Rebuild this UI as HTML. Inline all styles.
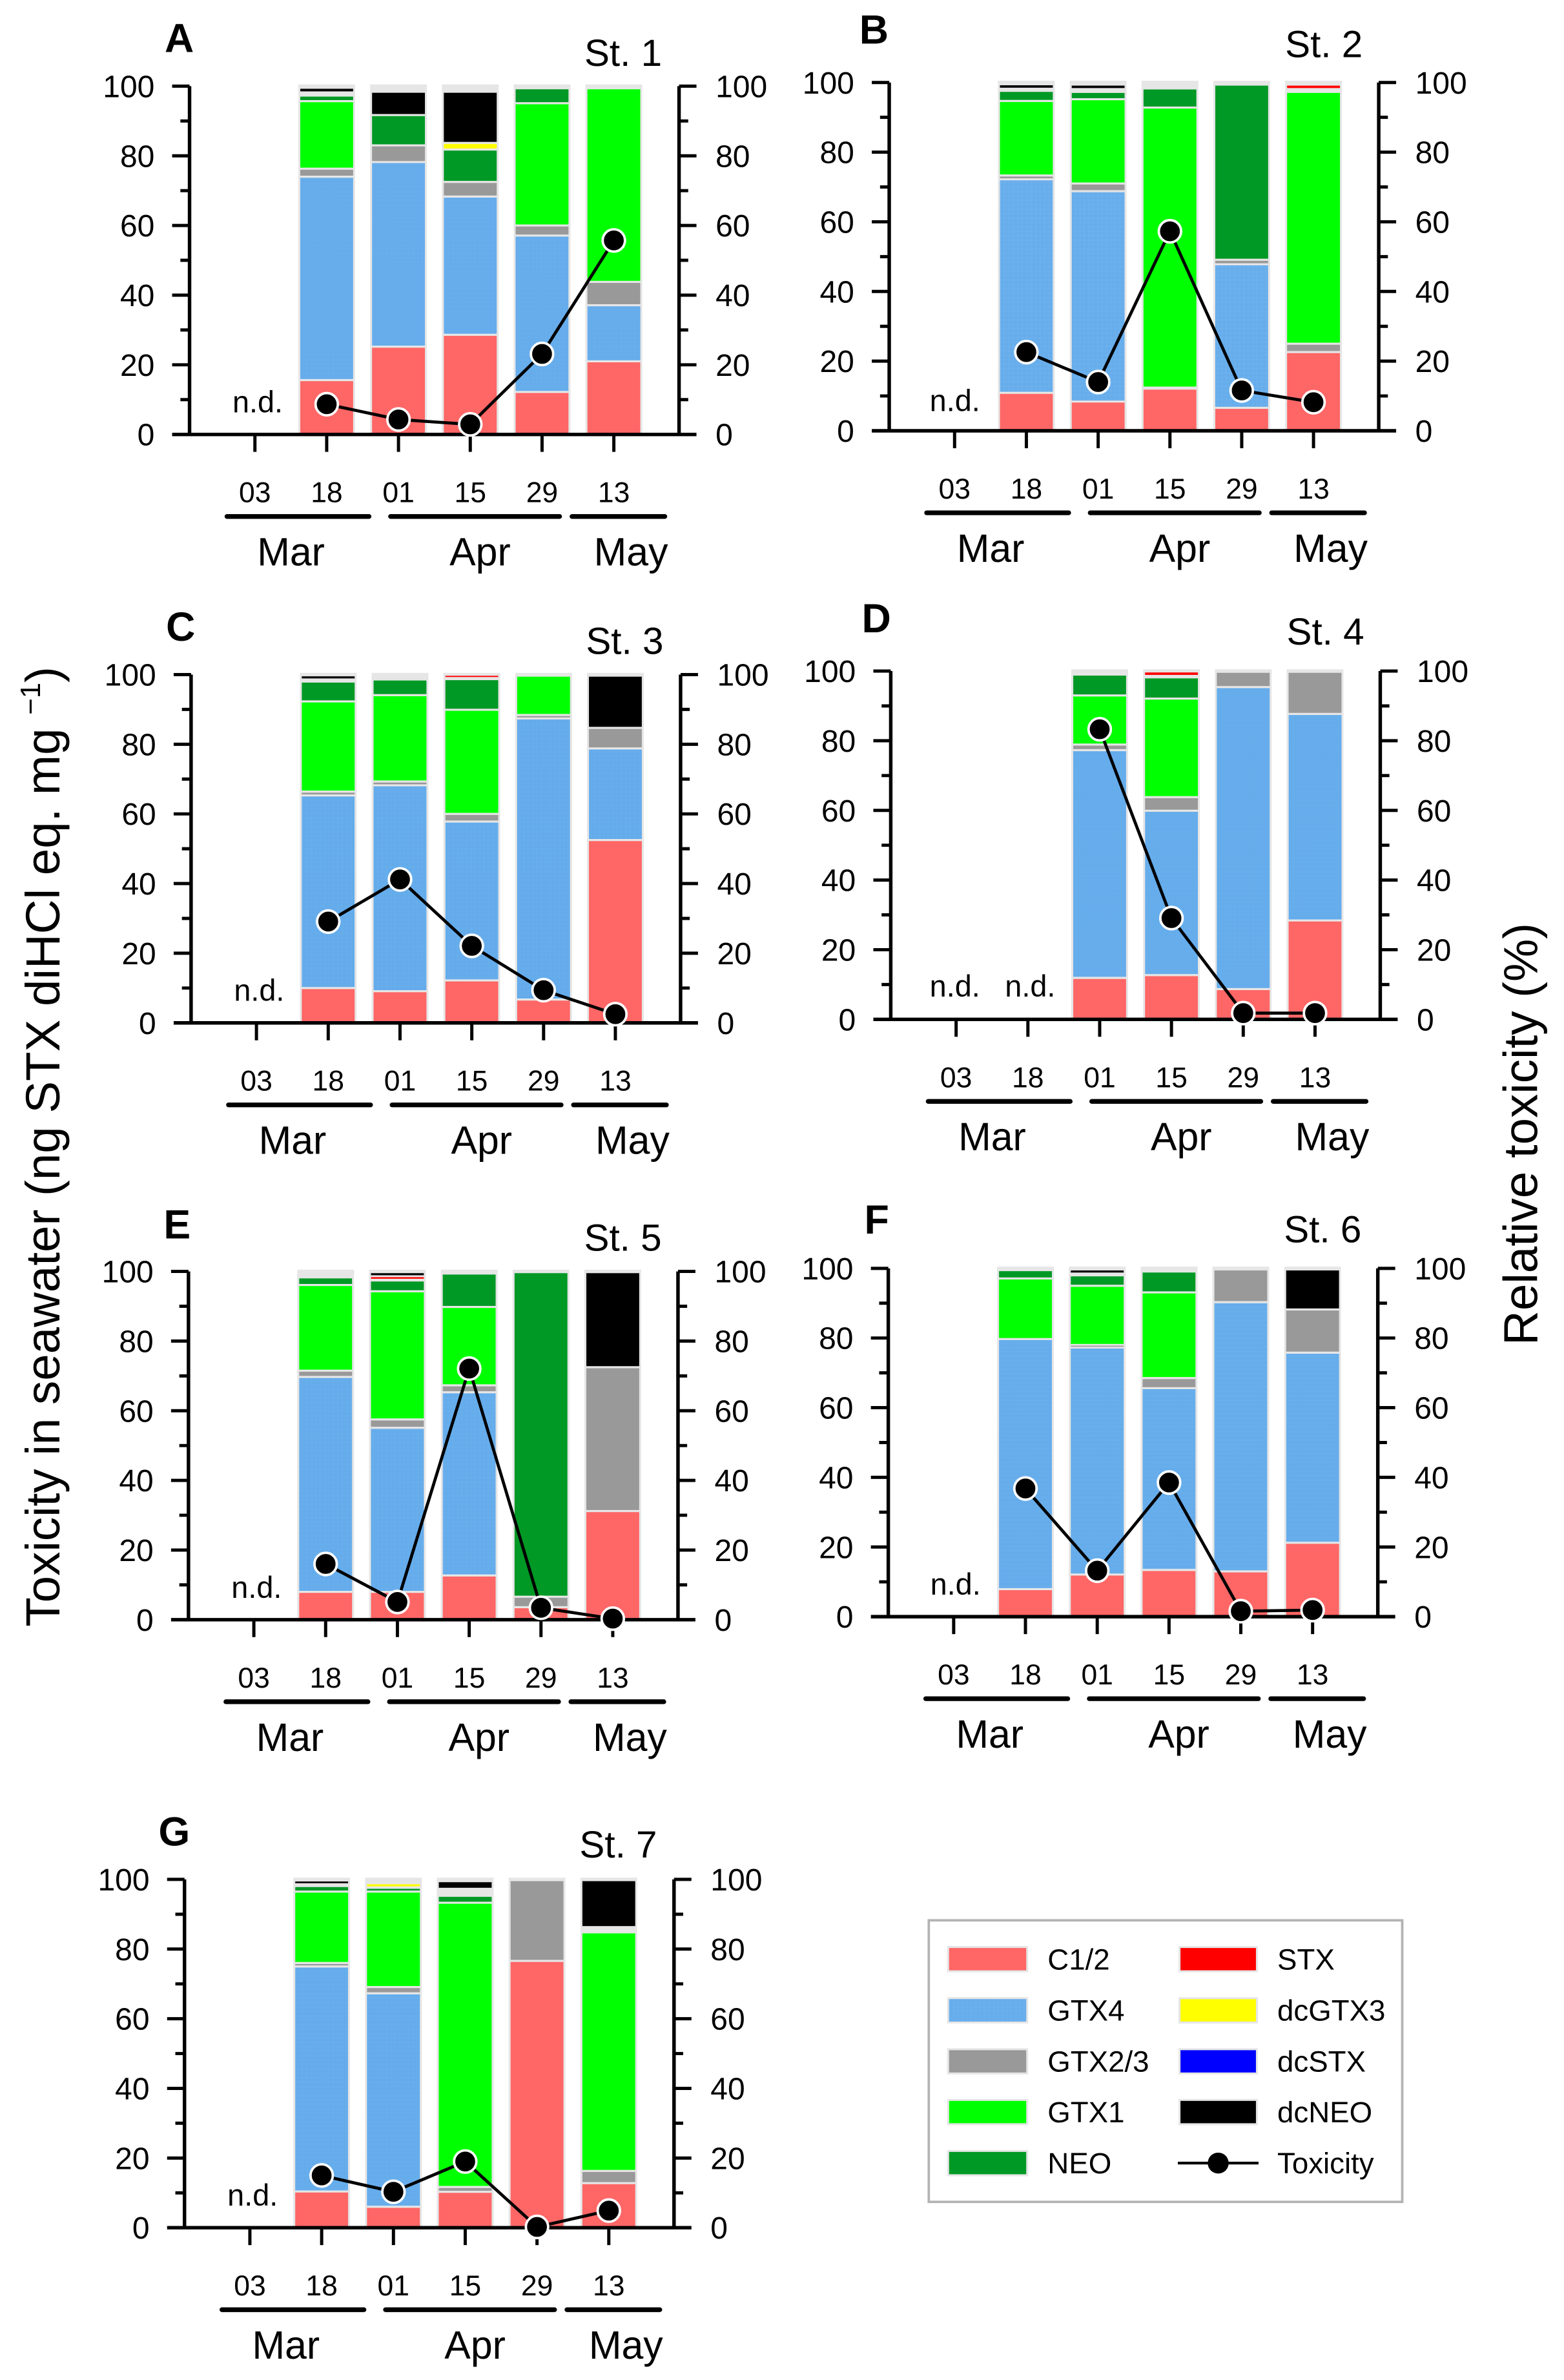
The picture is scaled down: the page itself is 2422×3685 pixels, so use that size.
<!DOCTYPE html>
<html><head><meta charset="utf-8"><style>
html,body{margin:0;padding:0;background:#fff;}
svg{display:block;}
text{font-family:"Liberation Sans",sans-serif;fill:#000;}
.tl{text-anchor:end;font-size:20.3px;}
.tr{font-size:20.3px;}
.td{text-anchor:middle;font-size:18.8px;}
.tm{text-anchor:middle;font-size:25.7px;}
.let{font-weight:bold;font-size:26.5px;}
.st{text-anchor:end;font-size:24.7px;}
.nd{text-anchor:middle;font-size:19.8px;}
.lg{font-size:19.3px;}
.c{fill:#ff6666}.b{fill:url(#gtx4)}.g{fill:#999999}.l{fill:#00ff00}.n{fill:#009925}.r{fill:#ff0000}.y{fill:#ffff00}.k{fill:#000000}.bg{fill:#e6e6e6}
.tox{fill:none;stroke:#000;stroke-width:2;}
.mk{fill:#000;stroke:#fff;stroke-width:1.6;}
</style></head><body>
<svg width="2422" height="3685" viewBox="0 0 1024 1558" xmlns="http://www.w3.org/2000/svg">
<defs>
<pattern id="gtx4" patternUnits="userSpaceOnUse" width="0.8456" height="0.3709"><rect width="0.8456" height="0.3709" fill="#4d9fe8"/><rect width="0.4228" height="0.1854" fill="#b5d8f7"/></pattern>
<g id="fr" fill="none" stroke="#000">
<path stroke-width="2.3" d="M0 0V-228M320.5 0V-228M-11.4 0H331.9"/>
<path stroke-width="2.1" d="M-11.4 -45.6H0M-11.4 -91.2H0M-11.4 -136.8H0M-11.4 -182.4H0M-11.4 -228H0M-6 -22.8H0M-6 -68.4H0M-6 -114H0M-6 -159.6H0M-6 -205.2H0M320.5 -45.6H331.9M320.5 -91.2H331.9M320.5 -136.8H331.9M320.5 -182.4H331.9M320.5 -228H331.9M320.5 -22.8H326.5M320.5 -68.4H326.5M320.5 -114H326.5M320.5 -159.6H326.5M320.5 -205.2H326.5M42.8 0V11.4M89.8 0V11.4M136.8 0V11.4M183.8 0V11.4M230.8 0V11.4M277.8 0V11.4"/>
<path stroke-width="3.1" stroke-linecap="round" d="M24.5 53.7H117.5M131.6 53.7H242.3M250.4 53.7H311.2"/>
</g>
</defs>
<rect width="1024" height="1558" fill="#fff"/>

<!-- Panel A -->
<g transform="translate(124.1,284.4)">
<g transform="scale(1,-2.28)">
<rect class="bg" x="71.2" y="0" width="37.2" height="100.5"/><rect class="bg" x="118.2" y="0" width="37.2" height="100.5"/><rect class="bg" x="165.2" y="0" width="37.2" height="100.5"/><rect class="bg" x="212.2" y="0" width="37.2" height="100.5"/><rect class="bg" x="259.2" y="0" width="37.2" height="100.5"/>
<rect class="c" x="72.5" y=".3" width="34.6" height="15"/><rect class="b" x="72.5" y="15.9" width="34.6" height="57.8"/><rect class="g" x="72.5" y="74.3" width="34.6" height="1.7"/><rect class="l" x="72.5" y="76.6" width="34.6" height="18.8"/><rect class="n" x="72.5" y="96" width="34.6" height="1"/><rect class="k" x="72.5" y="98.5" width="34.6" height=".75"/>
<rect class="c" x="119.5" y=".3" width="34.6" height="24.6"/><rect class="b" x="119.5" y="25.5" width="34.6" height="52.4"/><rect class="g" x="119.5" y="78.5" width="34.6" height="4.2"/><rect class="n" x="119.5" y="83.3" width="34.6" height="8.1"/><rect class="k" x="119.5" y="92" width="34.6" height="6.1"/>
<rect class="c" x="166.5" y=".3" width="34.6" height="28"/><rect class="b" x="166.5" y="28.9" width="34.6" height="39.1"/><rect class="g" x="166.5" y="68.6" width="34.6" height="3.6"/><rect class="n" x="166.5" y="72.8" width="34.6" height="8.7"/><rect class="y" x="166.5" y="82.1" width="34.6" height="1.3"/><rect class="k" x="166.5" y="84" width="34.6" height="14.1"/>
<rect class="c" x="213.5" y=".3" width="34.6" height="11.6"/><rect class="b" x="213.5" y="12.5" width="34.6" height="44.3"/><rect class="g" x="213.5" y="57.4" width="34.6" height="2.3"/><rect class="l" x="213.5" y="60.3" width="34.6" height="34.5"/><rect class="n" x="213.5" y="95.4" width="34.6" height="3.7"/>
<rect class="c" x="260.5" y=".3" width="34.6" height="20.4"/><rect class="b" x="260.5" y="21.3" width="34.6" height="15.5"/><rect class="g" x="260.5" y="37.4" width="34.6" height="6.1"/><rect class="l" x="260.5" y="44.1" width="34.6" height="55"/>
</g>
<use href="#fr"/>
<polyline class="tox" points="89.8,-19.8 136.8,-9.8 183.8,-6.6 230.8,-52.7 277.8,-127"/>
<circle class="mk" cx="89.8" cy="-19.8" r="7.3"/><circle class="mk" cx="136.8" cy="-9.8" r="7.3"/><circle class="mk" cx="183.8" cy="-6.6" r="7.3"/><circle class="mk" cx="230.8" cy="-52.7" r="7.3"/><circle class="mk" cx="277.8" cy="-127" r="7.3"/>
<text class="tl" x="-22.9" y="7.2">0</text><text class="tl" x="-22.9" y="-38.4">20</text><text class="tl" x="-22.9" y="-84">40</text><text class="tl" x="-22.9" y="-129.6">60</text><text class="tl" x="-22.9" y="-175.2">80</text><text class="tl" x="-22.9" y="-220.8">100</text>
<text class="tr" x="344.4" y="7.2">0</text><text class="tr" x="344.4" y="-38.4">20</text><text class="tr" x="344.4" y="-84">40</text><text class="tr" x="344.4" y="-129.6">60</text><text class="tr" x="344.4" y="-175.2">80</text><text class="tr" x="344.4" y="-220.8">100</text>
<text class="td" x="42.8" y="44.4">03</text><text class="td" x="89.8" y="44.4">18</text><text class="td" x="136.8" y="44.4">01</text><text class="td" x="183.8" y="44.4">15</text><text class="td" x="230.8" y="44.4">29</text><text class="td" x="277.8" y="44.4">13</text>
<text class="tm" x="66.4" y="85.8">Mar</text><text class="tm" x="190.2" y="85.8">Apr</text><text class="tm" x="289" y="85.8">May</text>
<text class="let" x="-16.3" y="-250.4">A</text><text class="st" x="309.3" y="-241.3">St. 1</text><text class="nd" x="44.6" y="-14.4">n.d.</text>
</g>

<!-- Panel B -->
<g transform="translate(582.2,282)">
<g transform="scale(1,-2.28)">
<rect class="bg" x="71.2" y="0" width="37.2" height="100.5"/><rect class="bg" x="118.2" y="0" width="37.2" height="100.5"/><rect class="bg" x="165.2" y="0" width="37.2" height="100.5"/><rect class="bg" x="212.2" y="0" width="37.2" height="100.5"/><rect class="bg" x="259.2" y="0" width="37.2" height="100.5"/>
<rect class="c" x="72.5" y=".3" width="34.6" height="10.3"/><rect class="b" x="72.5" y="11.2" width="34.6" height="60.7"/><rect class="g" x="72.5" y="72.5" width="34.6" height=".5"/><rect class="l" x="72.5" y="73.6" width="34.6" height="20.8"/><rect class="n" x="72.5" y="95" width="34.6" height="2.3"/><rect class="k" x="72.5" y="98.5" width="34.6" height=".7"/>
<rect class="c" x="119.5" y=".3" width="34.6" height="7.8"/><rect class="b" x="119.5" y="8.7" width="34.6" height="59.8"/><rect class="g" x="119.5" y="69.1" width="34.6" height="1.6"/><rect class="l" x="119.5" y="71.3" width="34.6" height="23.6"/><rect class="n" x="119.5" y="95.5" width="34.6" height="1.5"/><rect class="k" x="119.5" y="98.4" width="34.6" height=".7"/>
<rect class="c" x="166.5" y=".3" width="34.6" height="11.5"/><rect class="l" x="166.5" y="12.7" width="34.6" height="79.8"/><rect class="n" x="166.5" y="93.1" width="34.6" height="4.9"/>
<rect class="c" x="213.5" y=".3" width="34.6" height="6"/><rect class="b" x="213.5" y="6.9" width="34.6" height="40.6"/><rect class="g" x="213.5" y="48.1" width="34.6" height=".7"/><rect class="n" x="213.5" y="49.4" width="34.6" height="49.7"/>
<rect class="c" x="260.5" y=".3" width="34.6" height="22"/><rect class="g" x="260.5" y="22.9" width="34.6" height="1.8"/><rect class="l" x="260.5" y="25.3" width="34.6" height="71.7"/><rect class="r" x="260.5" y="98.4" width="34.6" height=".7"/>
</g>
<use href="#fr"/>
<polyline class="tox" points="89.8,-51.5 136.8,-31.9 183.8,-130.6 230.8,-26.4 277.8,-18.7"/>
<circle class="mk" cx="89.8" cy="-51.5" r="7.3"/><circle class="mk" cx="136.8" cy="-31.9" r="7.3"/><circle class="mk" cx="183.8" cy="-130.6" r="7.3"/><circle class="mk" cx="230.8" cy="-26.4" r="7.3"/><circle class="mk" cx="277.8" cy="-18.7" r="7.3"/>
<text class="tl" x="-22.9" y="7.2">0</text><text class="tl" x="-22.9" y="-38.4">20</text><text class="tl" x="-22.9" y="-84">40</text><text class="tl" x="-22.9" y="-129.6">60</text><text class="tl" x="-22.9" y="-175.2">80</text><text class="tl" x="-22.9" y="-220.8">100</text>
<text class="tr" x="344.4" y="7.2">0</text><text class="tr" x="344.4" y="-38.4">20</text><text class="tr" x="344.4" y="-84">40</text><text class="tr" x="344.4" y="-129.6">60</text><text class="tr" x="344.4" y="-175.2">80</text><text class="tr" x="344.4" y="-220.8">100</text>
<text class="td" x="42.8" y="44.4">03</text><text class="td" x="89.8" y="44.4">18</text><text class="td" x="136.8" y="44.4">01</text><text class="td" x="183.8" y="44.4">15</text><text class="td" x="230.8" y="44.4">29</text><text class="td" x="277.8" y="44.4">13</text>
<text class="tm" x="66.4" y="85.8">Mar</text><text class="tm" x="190.2" y="85.8">Apr</text><text class="tm" x="289" y="85.8">May</text>
<text class="let" x="-19.6" y="-253.4">B</text><text class="st" x="310" y="-244.6">St. 2</text><text class="nd" x="43" y="-13">n.d.</text>
</g>

<!-- Panel C -->
<g transform="translate(125.1,669.6)">
<g transform="scale(1,-2.28)">
<rect class="bg" x="71.2" y="0" width="37.2" height="100.5"/><rect class="bg" x="118.2" y="0" width="37.2" height="100.5"/><rect class="bg" x="165.2" y="0" width="37.2" height="100.5"/><rect class="bg" x="212.2" y="0" width="37.2" height="100.5"/><rect class="bg" x="259.2" y="0" width="37.2" height="100.5"/>
<rect class="c" x="72.5" y=".3" width="34.6" height="9.4"/><rect class="b" x="72.5" y="10.3" width="34.6" height="54.7"/><rect class="g" x="72.5" y="65.6" width="34.6" height=".5"/><rect class="l" x="72.5" y="66.7" width="34.6" height="25.3"/><rect class="n" x="72.5" y="92.6" width="34.6" height="5.1"/><rect class="k" x="72.5" y="98.9" width="34.6" height=".6"/>
<rect class="c" x="119.5" y=".3" width="34.6" height="8.5"/><rect class="b" x="119.5" y="9.4" width="34.6" height="58.5"/><rect class="g" x="119.5" y="68.5" width="34.6" height=".5"/><rect class="l" x="119.5" y="69.6" width="34.6" height="24.2"/><rect class="n" x="119.5" y="94.4" width="34.6" height="3.9"/>
<rect class="c" x="166.5" y=".3" width="34.6" height="11.6"/><rect class="b" x="166.5" y="12.5" width="34.6" height="45"/><rect class="g" x="166.5" y="58.1" width="34.6" height="1.6"/><rect class="l" x="166.5" y="60.3" width="34.6" height="29.3"/><rect class="n" x="166.5" y="90.2" width="34.6" height="8.2"/><rect class="r" x="166.5" y="99.3" width="34.6" height=".35"/>
<rect class="c" x="213.5" y=".3" width="34.6" height="6.1"/><rect class="b" x="213.5" y="7" width="34.6" height="80.1"/><rect class="g" x="213.5" y="87.7" width="34.6" height=".4"/><rect class="l" x="213.5" y="88.7" width="34.6" height="10.7"/>
<rect class="c" x="260.5" y=".3" width="34.6" height="51.9"/><rect class="b" x="260.5" y="52.8" width="34.6" height="25.7"/><rect class="g" x="260.5" y="79.1" width="34.6" height="5.3"/><rect class="k" x="260.5" y="85" width="34.6" height="14.4"/>
</g>
<use href="#fr"/>
<polyline class="tox" points="89.8,-66.3 136.8,-93.9 183.8,-50.4 230.8,-21.4 277.8,-5.7"/>
<circle class="mk" cx="89.8" cy="-66.3" r="7.3"/><circle class="mk" cx="136.8" cy="-93.9" r="7.3"/><circle class="mk" cx="183.8" cy="-50.4" r="7.3"/><circle class="mk" cx="230.8" cy="-21.4" r="7.3"/><circle class="mk" cx="277.8" cy="-5.7" r="7.3"/>
<text class="tl" x="-22.9" y="7.2">0</text><text class="tl" x="-22.9" y="-38.4">20</text><text class="tl" x="-22.9" y="-84">40</text><text class="tl" x="-22.9" y="-129.6">60</text><text class="tl" x="-22.9" y="-175.2">80</text><text class="tl" x="-22.9" y="-220.8">100</text>
<text class="tr" x="344.4" y="7.2">0</text><text class="tr" x="344.4" y="-38.4">20</text><text class="tr" x="344.4" y="-84">40</text><text class="tr" x="344.4" y="-129.6">60</text><text class="tr" x="344.4" y="-175.2">80</text><text class="tr" x="344.4" y="-220.8">100</text>
<text class="td" x="42.8" y="44.4">03</text><text class="td" x="89.8" y="44.4">18</text><text class="td" x="136.8" y="44.4">01</text><text class="td" x="183.8" y="44.4">15</text><text class="td" x="230.8" y="44.4">29</text><text class="td" x="277.8" y="44.4">13</text>
<text class="tm" x="66.4" y="85.8">Mar</text><text class="tm" x="190.2" y="85.8">Apr</text><text class="tm" x="289" y="85.8">May</text>
<text class="let" x="-16.4" y="-250.2">C</text><text class="st" x="309.3" y="-241.5">St. 3</text><text class="nd" x="44.6" y="-14.4">n.d.</text>
</g>

<!-- Panel D -->
<g transform="translate(583.2,667.3)">
<g transform="scale(1,-2.28)">
<rect class="bg" x="118.2" y="0" width="37.2" height="100.5"/><rect class="bg" x="165.2" y="0" width="37.2" height="100.5"/><rect class="bg" x="212.2" y="0" width="37.2" height="100.5"/><rect class="bg" x="259.2" y="0" width="37.2" height="100.5"/>
<rect class="c" x="119.5" y=".3" width="34.6" height="11.3"/><rect class="b" x="119.5" y="12.2" width="34.6" height="64.8"/><rect class="g" x="119.5" y="77.6" width="34.6" height="1"/><rect class="l" x="119.5" y="79.2" width="34.6" height="13.5"/><rect class="n" x="119.5" y="93.3" width="34.6" height="5.4"/>
<rect class="c" x="166.5" y=".3" width="34.6" height="12.1"/><rect class="b" x="166.5" y="13" width="34.6" height="46.6"/><rect class="g" x="166.5" y="60.2" width="34.6" height="3.3"/><rect class="l" x="166.5" y="64.1" width="34.6" height="27.7"/><rect class="n" x="166.5" y="92.4" width="34.6" height="5.5"/><rect class="r" x="166.5" y="98.9" width="34.6" height=".7"/>
<rect class="c" x="213.5" y=".3" width="34.6" height="8.1"/><rect class="b" x="213.5" y="9" width="34.6" height="86.1"/><rect class="g" x="213.5" y="95.7" width="34.6" height="3.8"/>
<rect class="c" x="260.5" y=".3" width="34.6" height="27.8"/><rect class="b" x="260.5" y="28.7" width="34.6" height="58.7"/><rect class="g" x="260.5" y="88" width="34.6" height="11.5"/>
</g>
<use href="#fr"/>
<polyline class="tox" points="136.8,-189.9 183.8,-66.3 230.8,-4.1 277.8,-4.1"/>
<circle class="mk" cx="136.8" cy="-189.9" r="7.3"/><circle class="mk" cx="183.8" cy="-66.3" r="7.3"/><circle class="mk" cx="230.8" cy="-4.1" r="7.3"/><circle class="mk" cx="277.8" cy="-4.1" r="7.3"/>
<text class="tl" x="-22.9" y="7.2">0</text><text class="tl" x="-22.9" y="-38.4">20</text><text class="tl" x="-22.9" y="-84">40</text><text class="tl" x="-22.9" y="-129.6">60</text><text class="tl" x="-22.9" y="-175.2">80</text><text class="tl" x="-22.9" y="-220.8">100</text>
<text class="tr" x="344.4" y="7.2">0</text><text class="tr" x="344.4" y="-38.4">20</text><text class="tr" x="344.4" y="-84">40</text><text class="tr" x="344.4" y="-129.6">60</text><text class="tr" x="344.4" y="-175.2">80</text><text class="tr" x="344.4" y="-220.8">100</text>
<text class="td" x="42.8" y="44.4">03</text><text class="td" x="89.8" y="44.4">18</text><text class="td" x="136.8" y="44.4">01</text><text class="td" x="183.8" y="44.4">15</text><text class="td" x="230.8" y="44.4">29</text><text class="td" x="277.8" y="44.4">13</text>
<text class="tm" x="66.4" y="85.8">Mar</text><text class="tm" x="190.2" y="85.8">Apr</text><text class="tm" x="289" y="85.8">May</text>
<text class="let" x="-19" y="-253.4">D</text><text class="st" x="310" y="-245.4">St. 4</text><text class="nd" x="42" y="-15">n.d.</text><text class="nd" x="91.3" y="-15">n.d.</text>
</g>

<!-- Panel E -->
<g transform="translate(123.4,1060.3)">
<g transform="scale(1,-2.28)">
<rect class="bg" x="71.2" y="0" width="37.2" height="100.5"/><rect class="bg" x="118.2" y="0" width="37.2" height="100.5"/><rect class="bg" x="165.2" y="0" width="37.2" height="100.5"/><rect class="bg" x="212.2" y="0" width="37.2" height="100.5"/><rect class="bg" x="259.2" y="0" width="37.2" height="100.5"/>
<rect class="c" x="72.5" y=".3" width="34.6" height="7.4"/><rect class="b" x="72.5" y="8.3" width="34.6" height="61.1"/><rect class="g" x="72.5" y="70" width="34.6" height="1.2"/><rect class="l" x="72.5" y="71.8" width="34.6" height="24"/><rect class="n" x="72.5" y="96.4" width="34.6" height="1.6"/>
<rect class="c" x="119.5" y=".3" width="34.6" height="7.4"/><rect class="b" x="119.5" y="8.3" width="34.6" height="46.5"/><rect class="g" x="119.5" y="55.4" width="34.6" height="1.8"/><rect class="l" x="119.5" y="57.8" width="34.6" height="36.2"/><rect class="n" x="119.5" y="94.6" width="34.6" height="2.5"/><rect class="r" x="119.5" y="97.9" width="34.6" height=".45"/><rect class="k" x="119.5" y="98.9" width="34.6" height=".6"/>
<rect class="c" x="166.5" y=".3" width="34.6" height="12.1"/><rect class="b" x="166.5" y="13" width="34.6" height="52"/><rect class="g" x="166.5" y="65.6" width="34.6" height="1.4"/><rect class="l" x="166.5" y="67.6" width="34.6" height="21.9"/><rect class="n" x="166.5" y="90.1" width="34.6" height="9"/>
<rect class="c" x="213.5" y=".3" width="34.6" height="3"/><rect class="g" x="213.5" y="3.9" width="34.6" height="2.4"/><rect class="n" x="213.5" y="6.9" width="34.6" height="92.6"/>
<rect class="c" x="260.5" y=".3" width="34.6" height="30.6"/><rect class="g" x="260.5" y="31.5" width="34.6" height="40.7"/><rect class="k" x="260.5" y="72.8" width="34.6" height="26.7"/>
</g>
<use href="#fr"/>
<polyline class="tox" points="89.8,-36.5 136.8,-11.6 183.8,-164.4 230.8,-7.8 277.8,-0.7"/>
<circle class="mk" cx="89.8" cy="-36.5" r="7.3"/><circle class="mk" cx="136.8" cy="-11.6" r="7.3"/><circle class="mk" cx="183.8" cy="-164.4" r="7.3"/><circle class="mk" cx="230.8" cy="-7.8" r="7.3"/><circle class="mk" cx="277.8" cy="-0.7" r="7.3"/>
<text class="tl" x="-22.9" y="7.2">0</text><text class="tl" x="-22.9" y="-38.4">20</text><text class="tl" x="-22.9" y="-84">40</text><text class="tl" x="-22.9" y="-129.6">60</text><text class="tl" x="-22.9" y="-175.2">80</text><text class="tl" x="-22.9" y="-220.8">100</text>
<text class="tr" x="344.4" y="7.2">0</text><text class="tr" x="344.4" y="-38.4">20</text><text class="tr" x="344.4" y="-84">40</text><text class="tr" x="344.4" y="-129.6">60</text><text class="tr" x="344.4" y="-175.2">80</text><text class="tr" x="344.4" y="-220.8">100</text>
<text class="td" x="42.8" y="44.4">03</text><text class="td" x="89.8" y="44.4">18</text><text class="td" x="136.8" y="44.4">01</text><text class="td" x="183.8" y="44.4">15</text><text class="td" x="230.8" y="44.4">29</text><text class="td" x="277.8" y="44.4">13</text>
<text class="tm" x="66.4" y="85.8">Mar</text><text class="tm" x="190.2" y="85.8">Apr</text><text class="tm" x="289" y="85.8">May</text>
<text class="let" x="-16.3" y="-249.5">E</text><text class="st" x="309.8" y="-241.5">St. 5</text><text class="nd" x="44.6" y="-14.4">n.d.</text>
</g>

<!-- Panel F -->
<g transform="translate(581.6,1058.3)">
<g transform="scale(1,-2.28)">
<rect class="bg" x="71.2" y="0" width="37.2" height="100.5"/><rect class="bg" x="118.2" y="0" width="37.2" height="100.5"/><rect class="bg" x="165.2" y="0" width="37.2" height="100.5"/><rect class="bg" x="212.2" y="0" width="37.2" height="100.5"/><rect class="bg" x="259.2" y="0" width="37.2" height="100.5"/>
<rect class="c" x="72.5" y=".3" width="34.6" height="7.3"/><rect class="b" x="72.5" y="8.2" width="34.6" height="71.2"/><rect class="l" x="72.5" y="80" width="34.6" height="16.8"/><rect class="n" x="72.5" y="97.4" width="34.6" height="1.8"/>
<rect class="c" x="119.5" y=".3" width="34.6" height="11.5"/><rect class="b" x="119.5" y="12.4" width="34.6" height="64.6"/><rect class="g" x="119.5" y="77.5" width="34.6" height=".3"/><rect class="l" x="119.5" y="78.3" width="34.6" height="16.4"/><rect class="n" x="119.5" y="95.3" width="34.6" height="2.4"/><rect class="k" x="119.5" y="98.8" width="34.6" height=".6"/>
<rect class="c" x="166.5" y=".3" width="34.6" height="12.8"/><rect class="b" x="166.5" y="13.7" width="34.6" height="51.6"/><rect class="g" x="166.5" y="65.9" width="34.6" height="2.3"/><rect class="l" x="166.5" y="68.8" width="34.6" height="24"/><rect class="n" x="166.5" y="93.4" width="34.6" height="5.4"/>
<rect class="c" x="213.5" y=".3" width="34.6" height="12.4"/><rect class="b" x="213.5" y="13.3" width="34.6" height="76.7"/><rect class="g" x="213.5" y="90.6" width="34.6" height="8.8"/>
<rect class="c" x="260.5" y=".3" width="34.6" height="20.6"/><rect class="b" x="260.5" y="21.5" width="34.6" height="54"/><rect class="g" x="260.5" y="76.1" width="34.6" height="11.8"/><rect class="k" x="260.5" y="88.5" width="34.6" height="10.9"/>
</g>
<use href="#fr"/>
<polyline class="tox" points="89.8,-83.9 136.8,-30.1 183.8,-87.8 230.8,-3.6 277.8,-4.3"/>
<circle class="mk" cx="89.8" cy="-83.9" r="7.3"/><circle class="mk" cx="136.8" cy="-30.1" r="7.3"/><circle class="mk" cx="183.8" cy="-87.8" r="7.3"/><circle class="mk" cx="230.8" cy="-3.6" r="7.3"/><circle class="mk" cx="277.8" cy="-4.3" r="7.3"/>
<text class="tl" x="-22.9" y="7.2">0</text><text class="tl" x="-22.9" y="-38.4">20</text><text class="tl" x="-22.9" y="-84">40</text><text class="tl" x="-22.9" y="-129.6">60</text><text class="tl" x="-22.9" y="-175.2">80</text><text class="tl" x="-22.9" y="-220.8">100</text>
<text class="tr" x="344.4" y="7.2">0</text><text class="tr" x="344.4" y="-38.4">20</text><text class="tr" x="344.4" y="-84">40</text><text class="tr" x="344.4" y="-129.6">60</text><text class="tr" x="344.4" y="-175.2">80</text><text class="tr" x="344.4" y="-220.8">100</text>
<text class="td" x="42.8" y="44.4">03</text><text class="td" x="89.8" y="44.4">18</text><text class="td" x="136.8" y="44.4">01</text><text class="td" x="183.8" y="44.4">15</text><text class="td" x="230.8" y="44.4">29</text><text class="td" x="277.8" y="44.4">13</text>
<text class="tm" x="66.4" y="85.8">Mar</text><text class="tm" x="190.2" y="85.8">Apr</text><text class="tm" x="289" y="85.8">May</text>
<text class="let" x="-15.7" y="-250.8">F</text><text class="st" x="309.8" y="-245">St. 6</text><text class="nd" x="44" y="-14.4">n.d.</text>
</g>

<!-- Panel G -->
<g transform="translate(120.8,1458.3)">
<g transform="scale(1,-2.28)">
<rect class="bg" x="71.2" y="0" width="37.2" height="100.5"/><rect class="bg" x="118.2" y="0" width="37.2" height="100.5"/><rect class="bg" x="165.2" y="0" width="37.2" height="100.5"/><rect class="bg" x="212.2" y="0" width="37.2" height="100.5"/><rect class="bg" x="259.2" y="0" width="37.2" height="100.5"/>
<rect class="c" x="72.5" y=".3" width="34.6" height="9.8"/><rect class="b" x="72.5" y="10.7" width="34.6" height="64"/><rect class="g" x="72.5" y="75.3" width="34.6" height=".4"/><rect class="l" x="72.5" y="76.3" width="34.6" height="19.9"/><rect class="n" x="72.5" y="96.8" width="34.6" height="1"/><rect class="k" x="72.5" y="98.9" width="34.6" height=".5"/>
<rect class="c" x="119.5" y=".3" width="34.6" height="5.4"/><rect class="b" x="119.5" y="6.3" width="34.6" height="60.7"/><rect class="g" x="119.5" y="67.6" width="34.6" height="1.2"/><rect class="l" x="119.5" y="69.4" width="34.6" height="26.8"/><rect class="n" x="119.5" y="96.8" width="34.6" height=".5"/><rect class="y" x="119.5" y="98" width="34.6" height=".6"/>
<rect class="c" x="166.5" y=".3" width="34.6" height="9.7"/><rect class="g" x="166.5" y="10.6" width="34.6" height=".8"/><rect class="l" x="166.5" y="12" width="34.6" height="81"/><rect class="n" x="166.5" y="93.6" width="34.6" height="1.4"/><rect class="k" x="166.5" y="97.6" width="34.6" height="1.6"/>
<rect class="c" x="213.5" y=".3" width="34.6" height="76"/><rect class="g" x="213.5" y="76.9" width="34.6" height="22.6"/>
<rect class="c" x="260.5" y=".3" width="34.6" height="12.2"/><rect class="g" x="260.5" y="13.1" width="34.6" height="2.9"/><rect class="l" x="260.5" y="16.6" width="34.6" height="67.9"/><rect class="k" x="260.5" y="86.6" width="34.6" height="12.9"/>
</g>
<use href="#fr"/>
<polyline class="tox" points="89.8,-34.2 136.8,-23.5 183.8,-43.3 230.8,-0.5 277.8,-11.2"/>
<circle class="mk" cx="89.8" cy="-34.2" r="7.3"/><circle class="mk" cx="136.8" cy="-23.5" r="7.3"/><circle class="mk" cx="183.8" cy="-43.3" r="7.3"/><circle class="mk" cx="230.8" cy="-0.5" r="7.3"/><circle class="mk" cx="277.8" cy="-11.2" r="7.3"/>
<text class="tl" x="-22.9" y="7.2">0</text><text class="tl" x="-22.9" y="-38.4">20</text><text class="tl" x="-22.9" y="-84">40</text><text class="tl" x="-22.9" y="-129.6">60</text><text class="tl" x="-22.9" y="-175.2">80</text><text class="tl" x="-22.9" y="-220.8">100</text>
<text class="tr" x="344.4" y="7.2">0</text><text class="tr" x="344.4" y="-38.4">20</text><text class="tr" x="344.4" y="-84">40</text><text class="tr" x="344.4" y="-129.6">60</text><text class="tr" x="344.4" y="-175.2">80</text><text class="tr" x="344.4" y="-220.8">100</text>
<text class="td" x="42.8" y="44.4">03</text><text class="td" x="89.8" y="44.4">18</text><text class="td" x="136.8" y="44.4">01</text><text class="td" x="183.8" y="44.4">15</text><text class="td" x="230.8" y="44.4">29</text><text class="td" x="277.8" y="44.4">13</text>
<text class="tm" x="66.4" y="85.8">Mar</text><text class="tm" x="190.2" y="85.8">Apr</text><text class="tm" x="289" y="85.8">May</text>
<text class="let" x="-17" y="-250.2">G</text><text class="st" x="309.4" y="-242.3">St. 7</text><text class="nd" x="44.6" y="-14.4">n.d.</text>
</g>

<!-- Axis titles -->
<text transform="translate(38.8,750.6) rotate(-90)" text-anchor="middle" font-size="31.5">Toxicity in seawater (ng STX diHCl eq. mg <tspan font-size="18.5" dy="-12.5">−1</tspan><tspan dy="12.5">)</tspan></text>
<text transform="translate(1006.5,742.4) rotate(-90)" text-anchor="middle" font-size="31.5">Relative toxicity (%)</text>

<!-- Legend -->
<rect x="608.1" y="1257.1" width="310" height="184.3" fill="#fff" stroke="#b3b3b3" stroke-width="1.6"/>
<g>
<rect class="bg" x="620.1" y="1273.9" width="53.1" height="17.2"/><rect class="c" x="621.4" y="1275.2" width="50.5" height="14.6"/>
<rect class="bg" x="620.1" y="1307.4" width="53.1" height="17.2"/><rect fill="#4d9fe8" x="621.4" y="1308.7" width="50.5" height="14.6"/><rect fill="url(#gtx4)" transform="scale(1,2.28)" x="621.4" y="573.99" width="50.5" height="6.4"/>
<rect class="bg" x="620.1" y="1340.8" width="53.1" height="17.2"/><rect class="g" x="621.4" y="1342.1" width="50.5" height="14.6"/>
<rect class="bg" x="620.1" y="1374" width="53.1" height="17.2"/><rect class="l" x="621.4" y="1375.3" width="50.5" height="14.6"/>
<rect class="bg" x="620.1" y="1407.4" width="53.1" height="17.2"/><rect class="n" x="621.4" y="1408.7" width="50.5" height="14.6"/>
<rect class="bg" x="771.6" y="1273.9" width="52" height="17.2"/><rect class="r" x="772.9" y="1275.2" width="49.4" height="14.6"/>
<rect class="bg" x="771.6" y="1307.4" width="52" height="17.2"/><rect class="y" x="772.9" y="1308.7" width="49.4" height="14.6"/>
<rect class="bg" x="771.6" y="1340.8" width="52" height="17.2"/><rect fill="#0000ff" x="772.9" y="1342.1" width="49.4" height="14.6"/>
<rect class="bg" x="771.6" y="1374" width="52" height="17.2"/><rect class="k" x="772.9" y="1375.3" width="49.4" height="14.6"/>
<path d="M771.2 1416H824" stroke="#000" stroke-width="1.8"/><circle cx="797.6" cy="1416" r="6.85" fill="#000"/>
<text class="lg" x="685.9" y="1289.3">C1/2</text>
<text class="lg" x="685.9" y="1322.8">GTX4</text>
<text class="lg" x="685.9" y="1356.2">GTX2/3</text>
<text class="lg" x="685.9" y="1389.4">GTX1</text>
<text class="lg" x="685.9" y="1422.8">NEO</text>
<text class="lg" x="836.3" y="1289.3">STX</text>
<text class="lg" x="836.3" y="1322.8">dcGTX3</text>
<text class="lg" x="836.3" y="1356.2">dcSTX</text>
<text class="lg" x="836.3" y="1389.4">dcNEO</text>
<text class="lg" x="836.3" y="1422.8">Toxicity</text>
</g>
</svg>
</body></html>
